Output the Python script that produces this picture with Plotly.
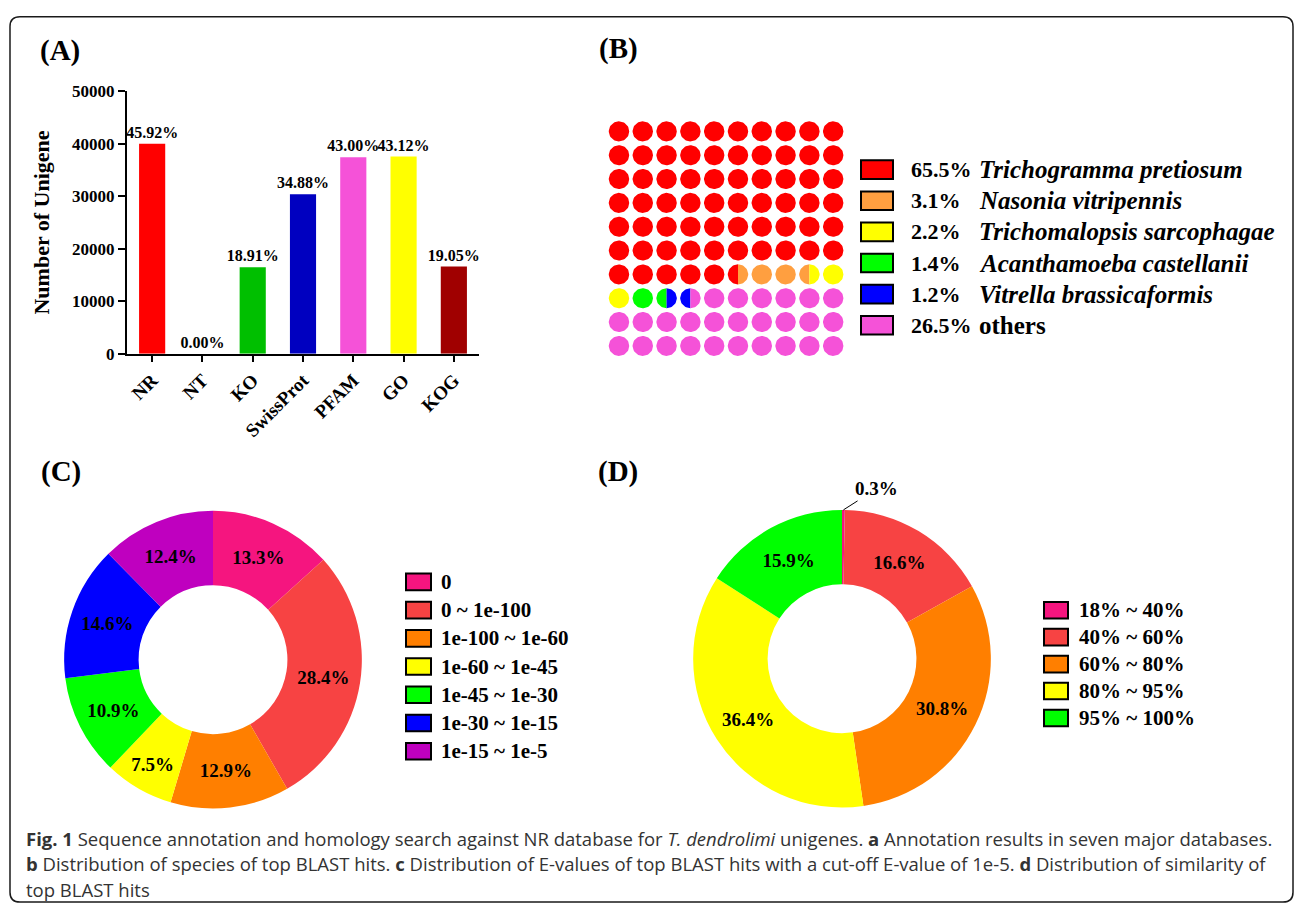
import numpy as np
import plotly.graph_objects as go

W, H = 1295, 915
SERIF = "Liberation Serif"

# ---------------- data ----------------
# Panel A: annotation in seven databases
db_names = ["NR", "NT", "KO", "SwissProt", "PFAM", "GO", "KOG"]
db_counts = [40000, 0, 16470, 30380, 37450, 37560, 16590]
db_pct = ["45.92%", "0.00%", "18.91%", "34.88%", "43.00%", "43.12%", "19.05%"]
db_colors = ["#FF0000", "#FFFFFF", "#00BF00", "#0000C0", "#F552D8", "#FFFF00", "#A00000"]

# Panel B: species distribution (waffle, counted in half circles out of 200)
species = ["Trichogramma pretiosum", "Nasonia vitripennis", "Trichomalopsis sarcophagae",
           "Acanthamoeba castellanii", "Vitrella brassicaformis", "others"]
species_pct = ["65.5%", "3.1%", "2.2%", "1.4%", "1.2%", "26.5%"]
species_half_cells = [131, 6, 5, 3, 2, 53]
species_colors = ["#FF0000", "#FF9F40", "#FFFF00", "#00FF00", "#0000FF", "#F552D8"]
species_italic = [True, True, True, True, True, False]

# Panel C: E-value distribution
evalue_bins = ["0", "0 ~ 1e-100", "1e-100 ~ 1e-60", "1e-60 ~ 1e-45",
               "1e-45 ~ 1e-30", "1e-30 ~ 1e-15", "1e-15 ~ 1e-5"]
evalue_pct = [13.3, 28.4, 12.9, 7.5, 10.9, 14.6, 12.4]
evalue_colors = ["#F5157F", "#F74343", "#FF7F00", "#FFFF00", "#00FF00", "#0000FF", "#BF00BF"]

# Panel D: similarity distribution
sim_bins = ["18% ~ 40%", "40% ~ 60%", "60% ~ 80%", "80% ~ 95%", "95% ~ 100%"]
sim_pct = [0.3, 16.6, 30.8, 36.4, 15.9]
sim_colors = ["#F5157F", "#F74343", "#FF7F00", "#FFFF00", "#00FF00"]

caption_lines = [
    "<b>Fig. 1</b> Sequence annotation and homology search against NR database for <i>T. dendrolimi</i> unigenes. "
    "<b>a</b> Annotation results in seven major databases.",
    "<b>b</b> Distribution of species of top BLAST hits. <b>c</b> Distribution of E-values of top BLAST hits with a "
    "cut-off E-value of 1e-5. <b>d</b> Distribution of similarity of",
    "top BLAST hits",
]


def X(px):
    return px / W


def Y(py):
    return 1 - py / H


fig = go.Figure()

# ---------------- Panel A: bars ----------------
fig.add_trace(go.Bar(
    x=db_names, y=db_counts, marker=dict(color=db_colors, line=dict(width=0)),
    width=0.52, text=db_pct, textposition="outside", cliponaxis=False,
    constraintext="none",
    textfont=dict(family=SERIF, size=16, color="black", weight="bold"),
    xaxis="x", yaxis="y", showlegend=False, hoverinfo="x+y",
))

# ---------------- Panel B: waffle ----------------
cell_halves = []  # category index per half cell
for ci, n in enumerate(species_half_cells):
    cell_halves += [ci] * n
rx, ry = 0.43, 0.42
traces_xy = {i: ([], []) for i in range(len(species))}
for cell in range(len(cell_halves) // 2):
    r, c = divmod(cell, 10)
    left, right = cell_halves[2 * cell], cell_halves[2 * cell + 1]
    if left == right:
        parts = [(left, np.linspace(0, 2 * np.pi, 60))]
    else:
        parts = [(left, np.linspace(np.pi / 2, 3 * np.pi / 2, 30)),
                 (right, np.linspace(-np.pi / 2, np.pi / 2, 30))]
    for ci, t in parts:
        traces_xy[ci][0].extend(list(c + rx * np.cos(t)) + [None])
        traces_xy[ci][1].extend(list(r + ry * np.sin(t)) + [None])
for ci in range(len(species)):
    fig.add_trace(go.Scatter(
        x=traces_xy[ci][0], y=traces_xy[ci][1], mode="lines", fill="toself",
        fillcolor=species_colors[ci], line=dict(width=0, color=species_colors[ci]),
        xaxis="x2", yaxis="y2", showlegend=False, hoverinfo="skip",
    ))

# ---------------- Panel C: donut ----------------
cC, rC = (213, 664.5), 152
fig.add_trace(go.Pie(
    values=evalue_pct, labels=evalue_bins, sort=False, direction="clockwise", rotation=0,
    hole=0.5, marker=dict(colors=evalue_colors, line=dict(width=0)),
    text=[f"{v}%" for v in evalue_pct], textinfo="text", textposition="inside",
    insidetextorientation="horizontal",
    textfont=dict(family=SERIF, size=19, color="black", weight="bold"),
    domain=dict(x=[X(cC[0] - rC), X(cC[0] + rC)], y=[Y(cC[1] + rC), Y(cC[1] - rC)]),
    showlegend=False,
))

# ---------------- Panel D: donut ----------------
cD, rD = (842, 663.5), 152
fig.add_trace(go.Pie(
    values=sim_pct, labels=sim_bins, sort=False, direction="clockwise", rotation=0,
    hole=0.5, marker=dict(colors=sim_colors, line=dict(width=0)),
    text=["" if v < 1 else f"{v}%" for v in sim_pct], textinfo="text", textposition="inside",
    insidetextorientation="horizontal",
    textfont=dict(family=SERIF, size=19, color="black", weight="bold"),
    domain=dict(x=[X(cD[0] - rD), X(cD[0] + rD)], y=[Y(cD[1] + rD), Y(cD[1] - rD)]),
    showlegend=False,
))

annotations = []
shapes = []

# small slice label with leader line
small_angle = np.deg2rad(sim_pct[0] / 100 * 360 / 2)
annotations.append(dict(
    x=X(cD[0] + rD * np.sin(small_angle)), y=Y(cD[1] - rD * np.cos(small_angle)),
    xref="paper", yref="paper", text=f"{sim_pct[0]}%", showarrow=True,
    arrowhead=0, arrowwidth=1, arrowcolor="black", ax=33, ay=-21,
    font=dict(family=SERIF, size=19, color="black", weight="bold"),
))

# panel letters
for lbl, (px, py) in zip(["(A)", "(B)", "(C)", "(D)"],
                         [(60, 42), (618, 40), (61, 472), (618, 472)]):
    annotations.append(dict(x=X(px), y=Y(py), xref="paper", yref="paper", text=lbl,
                            showarrow=False, xanchor="center", yanchor="middle",
                            font=dict(family=SERIF, size=29, color="black", weight="bold")))


def legend(labels, colors, box_x, box_w, box_h, y0, dy, text_x, size=21):
    for i, (lab, col) in enumerate(zip(labels, colors)):
        yc = y0 + dy * i
        shapes.append(dict(type="rect", xref="paper", yref="paper",
                           x0=X(box_x), x1=X(box_x + box_w),
                           y0=Y(yc + box_h / 2), y1=Y(yc - box_h / 2),
                           fillcolor=col, line=dict(color="black", width=2)))
        annotations.append(dict(x=X(text_x), y=Y(yc), xref="paper", yref="paper", text=lab,
                                showarrow=False, xanchor="left", yanchor="middle",
                                font=dict(family=SERIF, size=size, color="black", weight="bold")))


# Panel B legend
legend(species_pct, species_colors, 861, 32, 19, 164, 31.8, 909, size=22)
for i, (name, it) in enumerate(zip(species, species_italic)):
    annotations.append(dict(x=X(977), y=Y(164 + 31.8 * i), xref="paper", yref="paper",
                            text=name, showarrow=False, xanchor="left", yanchor="middle",
                            font=dict(family=SERIF, size=25, color="black", weight="bold",
                                      style="italic" if it else "normal")))
# Panel C legend
legend(evalue_bins, evalue_colors, 406, 25, 17, 585, 28.83, 439)
# Panel D legend
legend(sim_bins, sim_colors, 1044, 24, 17, 614, 27.5, 1077)

# caption
for i, line in enumerate(caption_lines):
    annotations.append(dict(x=X(24), y=Y(847 + 26 * i), xref="paper", yref="paper", text=line,
                            showarrow=False, xanchor="left", yanchor="middle",
                            font=dict(family="Open Sans", size=18.5, color="#333333")))

# rounded border
x0, x1, y0, y1, r = 10, 1293, 8, 912, 10
pts = [("M", x0 + r, y0), ("L", x1 - r, y0), ("Q", x1, y0, x1, y0 + r), ("L", x1, y1 - r),
       ("Q", x1, y1, x1 - r, y1), ("L", x0 + r, y1), ("Q", x0, y1, x0, y1 - r),
       ("L", x0, y0 + r), ("Q", x0, y0, x0 + r, y0)]
path = ""
for p in pts:
    cmd, coords = p[0], p[1:]
    s = [f"{X(coords[k]):.5f},{Y(coords[k + 1]):.5f}" for k in range(0, len(coords), 2)]
    path += cmd + " ".join(s) + " "
path += "Z"
shapes.append(dict(type="path", xref="paper", yref="paper", path=path,
                   line=dict(color="#1a1a1a", width=1.5)))

tick_font_y = dict(family=SERIF, size=17, color="black", weight="bold")
tick_font_x = dict(family=SERIF, size=19, color="black", weight="bold")
fig.update_layout(
    width=W, height=H, autosize=False,
    margin=dict(l=0, r=0, t=0, b=0),
    paper_bgcolor="white", plot_bgcolor="rgba(0,0,0,0)",
    showlegend=False,
    xaxis=dict(domain=[X(127), X(479)], anchor="y", type="category", range=[-0.5, 6.5],
               showline=True, linecolor="black", linewidth=2, ticks="outside", ticklen=6,
               tickwidth=2, tickcolor="black", tickangle=-45, tickfont=tick_font_x,
               showgrid=False, zeroline=False, fixedrange=True),
    yaxis=dict(domain=[Y(352), Y(84)], anchor="x", range=[0, 50000], dtick=10000,
               tickformat="d",
               showline=True, linecolor="black", linewidth=2, ticks="outside", ticklen=7,
               tickwidth=2, tickcolor="black", tickfont=tick_font_y, showgrid=False,
               zeroline=False, fixedrange=True,
               title=dict(text="Number of Unigene", standoff=16,
                          font=dict(family=SERIF, size=22, color="black", weight="bold"))),
    xaxis2=dict(domain=[X(607.1), X(845.1)], anchor="y2", range=[-0.5, 9.5], visible=False,
                fixedrange=True),
    yaxis2=dict(domain=[Y(356.2), Y(112.8)], anchor="x2", range=[9.5, -0.5], visible=False,
                fixedrange=True),
    annotations=annotations,
    shapes=shapes,
)

fig.write_html("out.html", config={"displayModeBar": False},
               post_script="document.body.style.margin='0';document.body.style.overflow='hidden';")
